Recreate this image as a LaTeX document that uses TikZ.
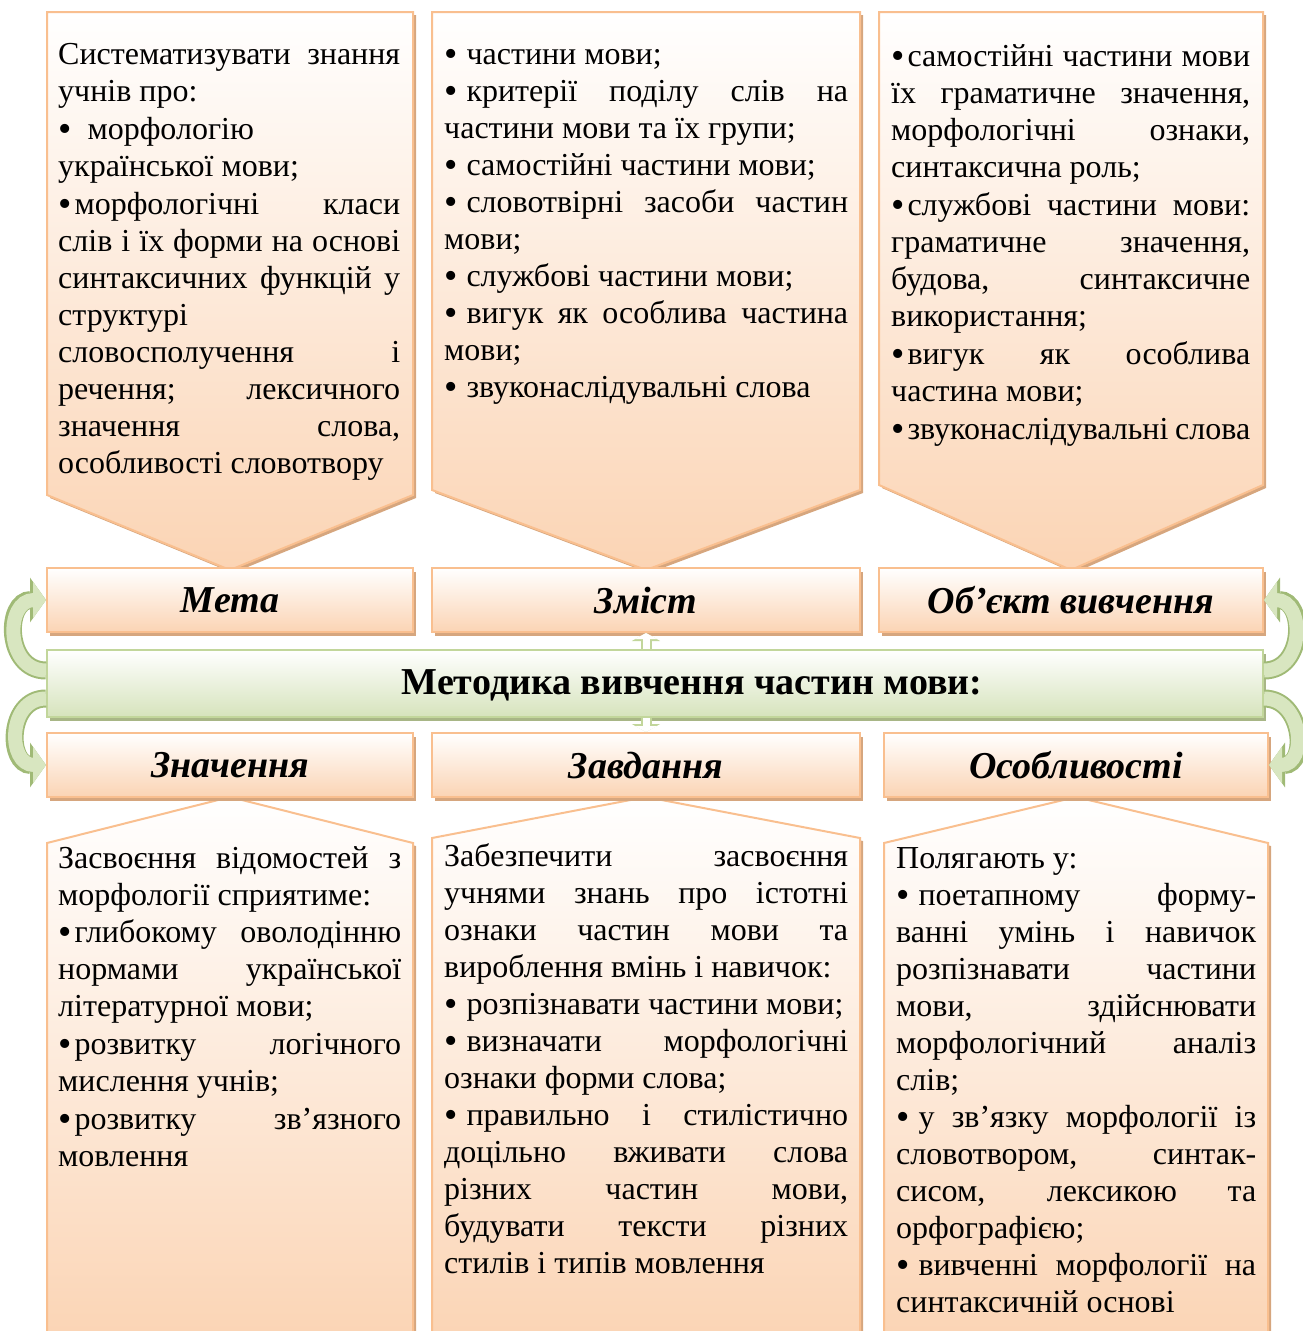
\documentclass[tikz,border=0pt]{standalone}
\usepackage{fontspec}
\setmainfont{Liberation Serif}
\usetikzlibrary{positioning,arrows.meta,shadows}

\definecolor{peachline}{RGB}{249,191,143}
\definecolor{peachfill}{RGB}{251,212,180}
\definecolor{peachshadow}{RGB}{214,166,126}
\definecolor{greenline}{RGB}{194,214,155}
\definecolor{greenfill}{RGB}{214,227,188}
\definecolor{greenshadow}{RGB}{168,182,134}
\definecolor{greendark}{RGB}{160,186,118}
\definecolor{greenlight}{RGB}{216,230,192}

\hyphenpenalty=10000
\exhyphenpenalty=10000
\tolerance=10000
\hbadness=10000

% bullets: wide and tight
\newcommand\bigdot{\raisebox{-2pt}{\fontsize{38}{37}\selectfont•}}
\newcommand\bul{\bigdot\hspace{9pt}}
\newcommand\bult{\bigdot\hspace{3pt}}

\begin{document}
\begin{tikzpicture}[
  x=1pt, y=-1pt,
  font=\fontsize{32}{37}\selectfont,
  panel/.style={draw=peachline, line width=2pt, top color=white, bottom color=peachfill,
                general shadow={fill=peachshadow, shadow xshift=3pt, shadow yshift=-3pt}},
  lbl/.style={draw=peachline, line width=2pt, top color=white, bottom color=peachfill,
              minimum height=64pt, inner sep=0pt,
              font=\fontsize{38}{42}\selectfont\bfseries\itshape,
              general shadow={fill=peachshadow, shadow xshift=3pt, shadow yshift=-4pt}},
  gbox/.style={draw=greenline, line width=2pt, top color=white, bottom color=greenfill,
               inner sep=0pt,
               general shadow={fill=greenshadow, shadow xshift=3pt, shadow yshift=-4pt}},
  txt/.style={anchor=north west, inner sep=0pt, align=justify},
  curlarrow/.style={draw=greenlight, line width=14pt, -{Triangle[length=13pt,width=36pt]},
                    preaction={draw=greendark, line width=18pt,
                               -{Triangle[length=16pt,width=44pt]}}},
  stubarrow/.style={draw=white, line width=7pt, -{Triangle[length=6pt,width=22pt]},
                    preaction={draw=greenline, line width=11pt,
                               -{Triangle[length=8pt,width=28pt]}}}
]
\useasboundingbox (0,0) rectangle (1303,1331);

% top panels
\path[panel] (47,12) -- (413,12) -- (413,495) -- (230,570) -- (47,495) -- cycle;
\path[panel] (432,12) -- (860,12) -- (860,490) -- (646,570) -- (432,490) -- cycle;
\path[panel] (879,12) -- (1263,12) -- (1263,485) -- (1071,570) -- (879,485) -- cycle;

% bottom panels
\path[panel] (230,797) -- (413,843) -- (413,1345) -- (47,1345) -- (47,843) -- cycle;
\path[panel] (646,797) -- (860,838) -- (860,1345) -- (432,1345) -- (432,838) -- cycle;
\path[panel] (1076,797) -- (1268,843) -- (1268,1345) -- (884,1345) -- (884,843) -- cycle;

\node[txt, text width=342pt] (metatext) at (58,38) {\strut
Систематизувати знання\linebreak
учнів про:\\[1pt]
\bigdot\hspace{16pt}морфологію\\
української мови;\\[1pt]
\bult морфологічні класи\linebreak
слів і їх форми на основі\linebreak
синтаксичних функцій у\linebreak
структурі\\
словосполучення і\linebreak
речення; лексичного\linebreak
значення слова,\linebreak
особливості словотвору};

\node[txt, text width=404pt] (zmisttext) at (444,38) {\strut
\bul частини мови;\\
\bul критерії поділу слів на\linebreak
частини мови та їх групи;\\
\bul самостійні частини мови;\\
\bul словотвірні засоби частин\linebreak
мови;\\
\bul службові частини мови;\\
\bul вигук як особлива частина\linebreak
мови;\\
\bul звуконаслідувальні слова};

\node[txt, text width=359pt] (objtext) at (891,40) {\strut
\bult самостійні частини мови\linebreak
їх граматичне значення,\linebreak
морфологічні ознаки,\linebreak
синтаксична роль;\\[1pt]
\bult службові частини мови:\linebreak
граматичне значення,\linebreak
будова, синтаксичне\linebreak
використання;\\[1pt]
\bult вигук як особлива\linebreak
частина мови;\\[1pt]
\bult звуконаслідувальні слова};

\node[txt, text width=343pt] (znachtext) at (58,842) {\strut
Засвоєння відомостей з\linebreak
морфології сприятиме:\\
\bult глибокому оволодінню\linebreak
нормами української\linebreak
літературної мови;\\[1pt]
\bult розвитку логічного\linebreak
мислення учнів;\\[1pt]
\bult розвитку зв’язного\linebreak
мовлення};

\node[txt, text width=404pt] (zavdtext) at (444,840) {\strut
Забезпечити засвоєння\linebreak
учнями знань про істотні\linebreak
ознаки частин мови та\linebreak
вироблення вмінь і навичок:\\
\bul розпізнавати частини мови;\\
\bul визначати морфологічні\linebreak
ознаки форми слова;\\
\bul правильно і стилістично\linebreak
доцільно вживати слова\linebreak
різних частин мови,\linebreak
будувати тексти різних\linebreak
стилів і типів мовлення};

\node[txt, text width=360pt] (osobtext) at (896,842) {\strut
Полягають у:\\
\bul поетапному форму-\linebreak
ванні умінь і навичок\linebreak
розпізнавати частини\linebreak
мови, здійснювати\linebreak
морфологічний аналіз\linebreak
слів;\\
\bul у зв’язку морфології із\linebreak
словотвором, синтак-\linebreak
сисом, лексикою та\linebreak
орфографією;\\
\bul вивченні морфології на\linebreak
синтаксичній основі};

% label boxes
\node[lbl, minimum width=366pt] (meta) at (230,600) {Мета};
\node[lbl, minimum width=428pt] (zmist) at (646,600) {Зміст};
\node[lbl, minimum width=384pt] (obj) at (1071,600) {Об’єкт вивчення};
\node[gbox, minimum width=1216pt, minimum height=67pt] (method) at (655,683.5) {};
\node[font=\fontsize{38}{42}\selectfont\bfseries] (title) at (692,685) {Методика вивчення частин мови:};
\node[lbl, minimum width=366pt] (znach) at (230,765) {Значення};
\node[lbl, minimum width=428pt] (zavd) at (646,765) {Завдання};
\node[lbl, minimum width=384pt] (osob) at (1076,765) {Особливості};

% arrows
\draw[curlarrow] ([yshift=13pt]method.west) to[out=180,in=180,looseness=1.5] (meta.west);
\draw[curlarrow] ([yshift=-15pt]method.west) to[out=180,in=180,looseness=1.5] (znach.west);
\draw[curlarrow] ([yshift=13pt]method.east) to[out=0,in=0,looseness=1.5] (obj.east);
\draw[curlarrow] ([yshift=-15pt]method.east) to[out=0,in=0,looseness=1.5] (osob.east);
\draw[stubarrow] (zmist.south |- method.north) -- (zmist.south);
\draw[stubarrow] (zavd.north |- method.south) -- (zavd.north);
\end{tikzpicture}
\end{document}
